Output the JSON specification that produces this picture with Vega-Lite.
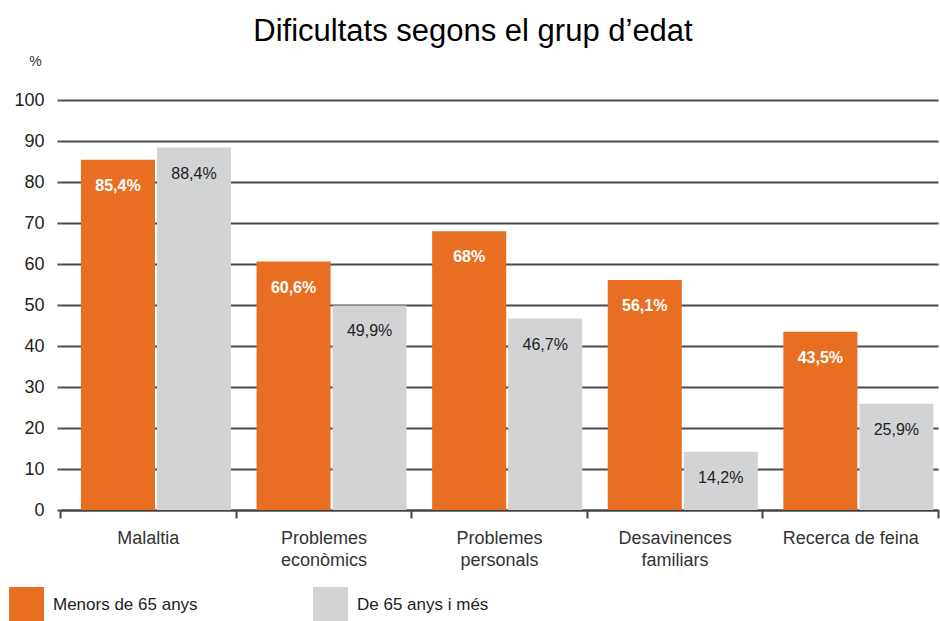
{
  "$schema": "https://vega.github.io/schema/vega-lite/v6.json",
  "autosize": {"type": "none"},
  "width": 878,
  "height": 410,
  "padding": {"left": 60, "top": 100, "right": 2, "bottom": 111},
  "background": "white",
  "title": {
    "text": "Dificultats segons el grup d’edat",
    "font": "Liberation Sans",
    "fontSize": 31,
    "fontWeight": "normal",
    "color": "#000000",
    "anchor": "middle",
    "dx": -26,
    "offset": 6
  },
  "config": {
    "view": {"stroke": null},
    "font": "Liberation Sans"
  },
  "data": {
    "values": [
      {"cat": "Malaltia", "group": "Menors de 65 anys", "value": 85.4, "label": "85,4%"},
      {"cat": "Malaltia", "group": "De 65 anys i més", "value": 88.4, "label": "88,4%"},
      {"cat": "Problemes econòmics", "group": "Menors de 65 anys", "value": 60.6, "label": "60,6%"},
      {"cat": "Problemes econòmics", "group": "De 65 anys i més", "value": 49.9, "label": "49,9%"},
      {"cat": "Problemes personals", "group": "Menors de 65 anys", "value": 68, "label": "68%"},
      {"cat": "Problemes personals", "group": "De 65 anys i més", "value": 46.7, "label": "46,7%"},
      {"cat": "Desavinences familiars", "group": "Menors de 65 anys", "value": 56.1, "label": "56,1%"},
      {"cat": "Desavinences familiars", "group": "De 65 anys i més", "value": 14.2, "label": "14,2%"},
      {"cat": "Recerca de feina", "group": "Menors de 65 anys", "value": 43.5, "label": "43,5%"},
      {"cat": "Recerca de feina", "group": "De 65 anys i més", "value": 25.9, "label": "25,9%"}
    ]
  },
  "encoding": {
    "x": {
      "field": "cat",
      "type": "nominal",
      "sort": null,
      "scale": {"paddingInner": 0, "paddingOuter": 0},
      "axis": {
        "title": null,
        "labelAngle": 0,
        "labelFontSize": 18,
        "labelColor": "#333333",
        "labelPadding": 11,
        "labelLineHeight": 22,
        "labelBaseline": "top",
        "labelExpr": "datum.label == 'Malaltia' || datum.label == 'Recerca de feina' ? datum.label : split(datum.label, ' ')",
        "domainColor": "#444444",
        "domainWidth": 2,
        "tickBand": "extent",
        "tickColor": "#444444",
        "tickWidth": 2,
        "tickSize": 8
      }
    },
    "xOffset": {
      "field": "group",
      "type": "nominal",
      "scale": {
        "domain": ["Menors de 65 anys", "De 65 anys i més"],
        "paddingInner": 0.026,
        "paddingOuter": 0.168,
        "align": 0.82
      }
    },
    "y": {
      "field": "value",
      "type": "quantitative",
      "scale": {"domain": [0, 100]},
      "axis": {
        "title": "%",
        "titleAngle": 0,
        "titleFontSize": 14,
        "titleFontWeight": "normal",
        "titleColor": "#333333",
        "titleX": -25,
        "titleY": -32,
        "titleAlign": "center",
        "values": [0, 10, 20, 30, 40, 50, 60, 70, 80, 90, 100],
        "domain": false,
        "ticks": true,
        "tickSize": 3,
        "tickColor": "#4a4a4a",
        "tickWidth": 2,
        "grid": true,
        "gridColor": "#4a4a4a",
        "gridWidth": 2,
        "labelFontSize": 18,
        "labelColor": "#222222",
        "labelPadding": 13
      }
    }
  },
  "layer": [
    {
      "mark": {"type": "bar"},
      "encoding": {
        "color": {
          "field": "group",
          "type": "nominal",
          "scale": {
            "domain": ["Menors de 65 anys", "De 65 anys i més"],
            "range": ["#E86E22", "#D2D3D5"]
          },
          "legend": {
            "title": null,
            "orient": "none",
            "legendX": -51,
            "legendY": 487,
            "direction": "horizontal",
            "columns": 2,
            "symbolType": "square",
            "symbolSize": 1225,
            "symbolStrokeWidth": 0,
            "symbolOpacity": 1,
            "labelFontSize": 17,
            "labelColor": "#222222",
            "labelOffset": 9,
            "columnPadding": 115
          }
        }
      }
    },
    {
      "transform": [{"filter": "datum.group == 'Menors de 65 anys'"}],
      "mark": {"type": "text", "baseline": "middle", "dy": 26, "fontSize": 16, "fontWeight": "bold", "color": "white"},
      "encoding": {"text": {"field": "label"}}
    },
    {
      "transform": [{"filter": "datum.group == 'De 65 anys i més'"}],
      "mark": {"type": "text", "baseline": "middle", "dy": 26, "fontSize": 16, "color": "#222222"},
      "encoding": {"text": {"field": "label"}}
    }
  ]
}
